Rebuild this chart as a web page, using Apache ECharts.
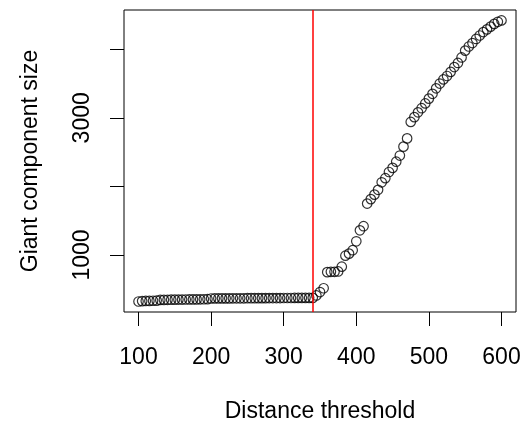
<!DOCTYPE html>
<html>
<head>
<meta charset="utf-8">
<script src="https://cdn.jsdelivr.net/npm/echarts@6/dist/echarts.min.js"></script>
<style>
  html, body { margin: 0; padding: 0; background: #fff; }
  #chart { width: 525px; height: 428px; }
</style>
</head>
<body>
<div id="chart"></div>
<script>
// distance thresholds (x) and giant component sizes (y)
const thresholds = [
  100, 105, 110, 115, 120, 125, 130, 135, 140, 145, 150, 155, 160, 165, 170, 175, 180, 185, 190, 195,
  200, 205, 210, 215, 220, 225, 230, 235, 240, 245, 250, 255, 260, 265, 270, 275, 280, 285, 290, 295,
  300, 305, 310, 315, 320, 325, 330, 335, 340, 345, 350, 355, 360, 365, 370, 375, 380, 385, 390, 395,
  400, 405, 410, 415, 420, 425, 430, 435, 440, 445, 450, 455, 460, 465, 470, 475, 480, 485, 490, 495,
  500, 505, 510, 515, 520, 525, 530, 535, 540, 545, 550, 555, 560, 565, 570, 575, 580, 585, 590, 595,
  600
]
const giantSize = [
  322, 328, 330, 331, 333, 335, 345, 346, 347, 348, 349, 350, 350, 351, 352, 352, 353, 354, 355, 356,
  366, 367, 367, 368, 368, 368, 369, 369, 369, 369, 370, 370, 370, 371, 371, 371, 372, 372, 372, 372,
  373, 373, 373, 374, 374, 374, 375, 375, 375, 410, 460, 515, 750, 755, 755, 760, 830, 990, 1020, 1070,
  1200, 1360, 1420, 1750, 1815, 1880, 1950, 2060, 2120, 2210, 2270, 2360, 2450, 2580, 2700, 2940, 3010, 3080, 3140, 3210,
  3280, 3350, 3430, 3500, 3560, 3610, 3670, 3740, 3800, 3880, 3980, 4040, 4090, 4150, 4200, 4250, 4290, 4330, 4370, 4400,
  4420
]
const cutoff = 340
const xTicks = [100, 200, 300, 400, 500, 600]
const yTicks = [1000, 2000, 3000, 4000]
const yLabels = [1000, 3000]

const chart = echarts.init(document.getElementById('chart'))
const font = 'Liberation Sans, Arial, sans-serif'

chart.setOption({
  animation: false,
  grid: {
    left: 124, right: 9, top: 10, bottom: 112,
    show: true, borderColor: '#000', borderWidth: 1
  },
  xAxis: {
    type: 'value',
    min: 80, max: 620,
    name: 'Distance threshold',
    nameLocation: 'middle',
    nameGap: 88,
    nameTextStyle: { color: '#000', fontSize: 23, fontFamily: font },
    axisLine: { show: false },
    axisTick: { show: true, length: 14, customValues: xTicks, lineStyle: { color: '#000' } },
    axisLabel: { customValues: xTicks, margin: 34, color: '#000', fontSize: 23, fontFamily: font,
      formatter: v => String(v) },
    splitLine: { show: false }
  },
  yAxis: {
    type: 'value',
    min: 169, max: 4572,
    name: 'Giant component size',
    nameLocation: 'middle',
    nameGap: 82,
    nameTextStyle: { color: '#000', fontSize: 23, fontFamily: font },
    axisLine: { show: false },
    axisTick: { show: true, length: 14, customValues: yTicks, lineStyle: { color: '#000' } },
    axisLabel: { customValues: yLabels, rotate: 90, margin: 30, color: '#000', fontSize: 23, fontFamily: font,
      formatter: v => String(v) },
    splitLine: { show: false }
  },
  series: [
    {
      type: 'scatter',
      data: thresholds.map((t, i) => [t, giantSize[i]]),
      symbol: 'circle',
      symbolSize: 9.5,
      itemStyle: { color: 'rgba(0,0,0,0)', borderColor: '#000', borderWidth: 1.2 },
      markLine: {
        silent: true,
        symbol: ['none', 'none'],
        label: { show: false },
        lineStyle: { color: '#ff0000', width: 1.5, type: 'solid' },
        data: [{ xAxis: cutoff }]
      }
    }
  ]
})
</script>
</body>
</html>
